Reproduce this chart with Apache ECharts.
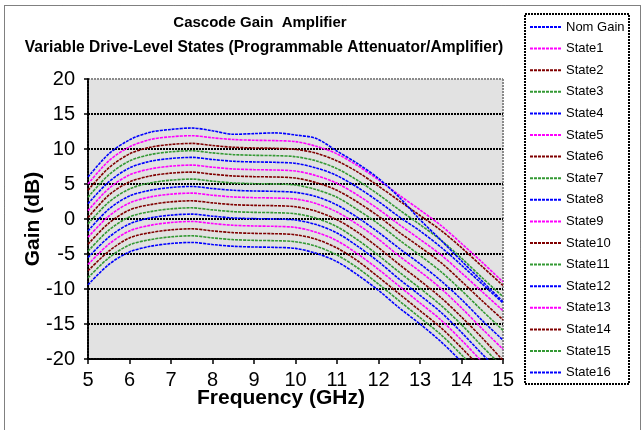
<!DOCTYPE html>
<html><head><meta charset="utf-8">
<script src="https://cdn.jsdelivr.net/npm/echarts@6/dist/echarts.min.js"></script>
<style>html,body{margin:0;padding:0;background:#fff}#c{width:644px;height:430px}</style>
</head><body><div id="c"></div>
<script>
const freq = [5, 5.5, 6, 6.5, 7, 7.5, 8, 8.5, 9, 9.5, 10, 10.5, 11, 11.5, 12, 12.5, 13, 13.5, 14, 14.5, 15];
const seriesNames = ['Nom Gain','State1','State2','State3','State4','State5','State6','State7','State8','State9','State10','State11','State12','State13','State14','State15','State16'];
const nomGain = [6.0, 9.3, 11.3, 12.4, 12.8, 13.0, 12.6, 12.1, 12.2, 12.3, 12.0, 11.5, 9.7, 7.9, 5.8, 3.1, -0.1, -3.0, -6.0, -8.9, -11.8];
const state1  = [5.0, 8.3, 10.3, 11.35, 11.75, 11.9, 11.6, 11.35, 11.25, 11.2, 11.05, 10.4, 9.3, 7.6, 5.6, 3.4, 1.3, -0.9, -3.5, -6.2, -9.0];
const state2  = [4.1, 7.3, 9.3, 10.25, 10.65, 10.8, 10.5, 10.25, 10.15, 10.1, 9.95, 9.4, 8.3, 6.7, 4.7, 2.6, 0.5, -1.6, -4.1, -6.8, -9.5];
const state3  = [3.1, 6.3, 8.3, 9.2, 9.6, 9.75, 9.45, 9.2, 9.1, 9.05, 8.9, 8.3, 7.2, 5.5, 3.5, 1.3, -0.8, -3.0, -5.6, -8.4, -11.1];
const state4  = [2.2, 5.3, 7.3, 8.25, 8.65, 8.8, 8.5, 8.25, 8.15, 8.1, 7.95, 7.3, 6.2, 4.5, 2.5, 0.3, -1.7, -4.0, -6.6, -9.3, -12.0];
const state5  = [1.2, 4.35, 6.3, 7.15, 7.55, 7.7, 7.4, 7.15, 7.05, 7.0, 6.85, 6.2, 5.1, 3.4, 1.4, -0.8, -2.9, -5.1, -7.7, -10.4, -13.1];
const state6  = [0.2, 3.4, 5.3, 6.15, 6.55, 6.7, 6.4, 6.15, 6.05, 6.0, 5.85, 5.2, 4.1, 2.4, 0.4, -1.9, -4.0, -6.2, -8.9, -11.7, -14.4];
const state7  = [-0.7, 2.4, 4.3, 5.15, 5.55, 5.7, 5.4, 5.15, 5.05, 5.0, 4.85, 4.2, 3.1, 1.3, -0.7, -3.0, -5.2, -7.5, -10.2, -13.1, -15.9];
const state8  = [-1.7, 1.4, 3.3, 4.1, 4.5, 4.65, 4.35, 4.1, 4.0, 3.95, 3.8, 3.2, 2.0, 0.2, -1.9, -4.2, -6.4, -8.8, -11.5, -14.5, -17.3];
const state9  = [-2.6, 0.4, 2.3, 3.15, 3.55, 3.7, 3.4, 3.15, 3.05, 3.0, 2.85, 2.2, 1.0, -0.8, -2.9, -5.3, -7.5, -9.9, -12.7, -15.7, -18.6];
const state10 = [-3.6, -0.6, 1.3, 2.05, 2.45, 2.6, 2.3, 2.05, 1.95, 1.9, 1.75, 1.1, -0.1, -1.9, -4.1, -6.5, -8.8, -11.2, -14.0, -17.0, -20.2];
const state11 = [-4.6, -1.6, 0.3, 1.05, 1.45, 1.6, 1.3, 1.05, 0.95, 0.9, 0.75, 0.1, -1.1, -3.0, -5.2, -7.6, -9.9, -12.3, -15.1, -18.2, -21.2];
const state12 = [-5.5, -2.6, -0.7, 0.15, 0.55, 0.7, 0.4, 0.15, 0.05, 0.0, -0.15, -0.8, -2.0, -3.9, -6.1, -8.6, -10.9, -13.3, -16.2, -19.3, -22.3];
const state13 = [-6.5, -3.6, -1.7, -0.9, -0.5, -0.35, -0.65, -0.9, -1.0, -1.05, -1.2, -1.9, -3.1, -5.0, -7.2, -9.6, -12.0, -14.4, -17.3, -20.4, -23.4];
const state14 = [-7.4, -4.6, -2.7, -1.95, -1.55, -1.4, -1.7, -1.95, -2.05, -2.1, -2.25, -2.9, -4.15, -6.0, -8.3, -10.7, -13.1, -15.5, -18.4, -21.5, -24.6];
const state15 = [-8.4, -5.55, -3.7, -2.95, -2.55, -2.4, -2.7, -2.95, -3.05, -3.1, -3.25, -3.9, -5.15, -7.0, -9.3, -11.7, -14.1, -16.5, -19.4, -22.5, -25.6];
const state16 = [-9.4, -6.5, -4.7, -3.9, -3.5, -3.35, -3.65, -3.9, -4.0, -4.05, -4.2, -4.9, -6.1, -8.0, -10.2, -12.7, -15.0, -17.5, -20.4, -23.5, -26.5];
const xTicks = [5, 6, 7, 8, 9, 10, 11, 12, 13, 14, 15];
const yTicks = [-20, -15, -10, -5, 0, 5, 10, 15, 20];
const titleLine1 = 'Cascode Gain  Amplifier';
const titleLine2 = 'Variable Drive-Level States (Programmable Attenuator/Amplifier)';
const xName = 'Frequency (GHz)';
const yName = 'Gain (dB)';

const allValues = [nomGain, state1, state2, state3, state4, state5, state6, state7, state8, state9, state10, state11, state12, state13, state14, state15, state16];
const palette = ['#0000FF', '#FF00FF', '#800000', '#339933'];
const FONT = '"Liberation Sans", Arial, sans-serif';
const dashIcon = 'path://M0 0h3v2h-3z M4 0h3v2h-3z M8 0h3v2h-3z M12 0h3v2h-3z M16 0h3v2h-3z M20 0h3v2h-3z M24 0h3v2h-3z M28 0h3v2h-3z';

const chart = echarts.init(document.getElementById('c'), null, {renderer: 'canvas'});

const series = seriesNames.map((n, i) => ({
  name: n,
  type: 'line',
  data: freq.map((f, j) => [f, allValues[i][j]]),
  symbol: 'none',
  smooth: 0.3,
  clip: true,
  animation: false,
  z: 20 - i,
  lineStyle: {color: palette[i % 4], width: 1.6, type: [3, 1]},
  itemStyle: {color: palette[i % 4]}
}));

const splitColors = yTicks.map((v, i) => i === yTicks.length - 1 ? '#8a8a8a' : '#000');

chart.setOption({
  animation: false,
  backgroundColor: '#fff',
  grid: {left: 88, top: 79, width: 415, height: 280, show: true, backgroundColor: '#E2E2E2', borderWidth: 0},
  xAxis: {
    type: 'value', min: xTicks[0], max: xTicks[xTicks.length - 1], interval: 1,
    axisLine: {show: true, onZero: false, lineStyle: {color: '#000', width: 2, type: [2, 1]}},
    axisTick: {show: true, length: 5, lineStyle: {color: '#000', width: 1.5}},
    axisLabel: {color: '#000', fontFamily: FONT, fontSize: 20, margin: 11},
    splitLine: {show: false}
  },
  yAxis: {
    type: 'value', min: yTicks[0], max: yTicks[yTicks.length - 1], interval: 5,
    axisLine: {show: true, onZero: false, lineStyle: {color: '#000', width: 2, type: [2, 1]}},
    axisTick: {show: true, length: 4, lineStyle: {color: '#000', width: 1.5}},
    axisLabel: {color: '#000', fontFamily: FONT, fontSize: 20, margin: 13},
    splitLine: {show: true, lineStyle: {color: splitColors, width: 2, type: [2, 1]}}
  },
  legend: {
    orient: 'vertical', left: 525, top: 14, padding: [6.5, 5, 6.5, 5],
    itemWidth: 31, itemHeight: 13, itemGap: 8.6,
    selectedMode: false,
    icon: dashIcon,
    data: seriesNames,
    textStyle: {fontFamily: FONT, fontSize: 13, lineHeight: 13, color: '#000'}
  },
  graphic: [
    {type: 'rect', silent: true, shape: {x: 4.5, y: 5.5, width: 636, height: 440}, style: {fill: 'none', stroke: '#000', lineWidth: 1, lineDash: [1, 1]}},
    {type: 'rect', silent: true, shape: {x: 525, y: 14, width: 104, height: 370}, style: {fill: 'none', stroke: '#000', lineWidth: 2, lineDash: [2, 1]}},
    {type: 'line', silent: true, shape: {x1: 503, y1: 79, x2: 503, y2: 359}, style: {stroke: '#8a8a8a', lineWidth: 2, lineDash: [2, 1]}},
    {type: 'text', silent: true, x: 260, y: 23, style: {text: titleLine1, font: 'bold 15px ' + FONT, fill: '#000', align: 'center', verticalAlign: 'middle', textAlign: 'center', textVerticalAlign: 'middle'}},
    {type: 'text', silent: true, x: 264, y: 48, style: {text: titleLine2, font: 'bold 15.6px ' + FONT, fill: '#000', align: 'center', verticalAlign: 'middle', textAlign: 'center', textVerticalAlign: 'middle'}},
    {type: 'text', silent: true, x: 281, y: 398, style: {text: xName, font: 'bold 21px ' + FONT, fill: '#000', align: 'center', verticalAlign: 'middle', textAlign: 'center', textVerticalAlign: 'middle'}},
    {type: 'text', silent: true, x: 33, y: 219, rotation: Math.PI / 2, style: {text: yName, font: 'bold 21px ' + FONT, fill: '#000', align: 'center', verticalAlign: 'middle', textAlign: 'center', textVerticalAlign: 'middle'}}
  ],
  series: series
});
</script>
</body></html>
